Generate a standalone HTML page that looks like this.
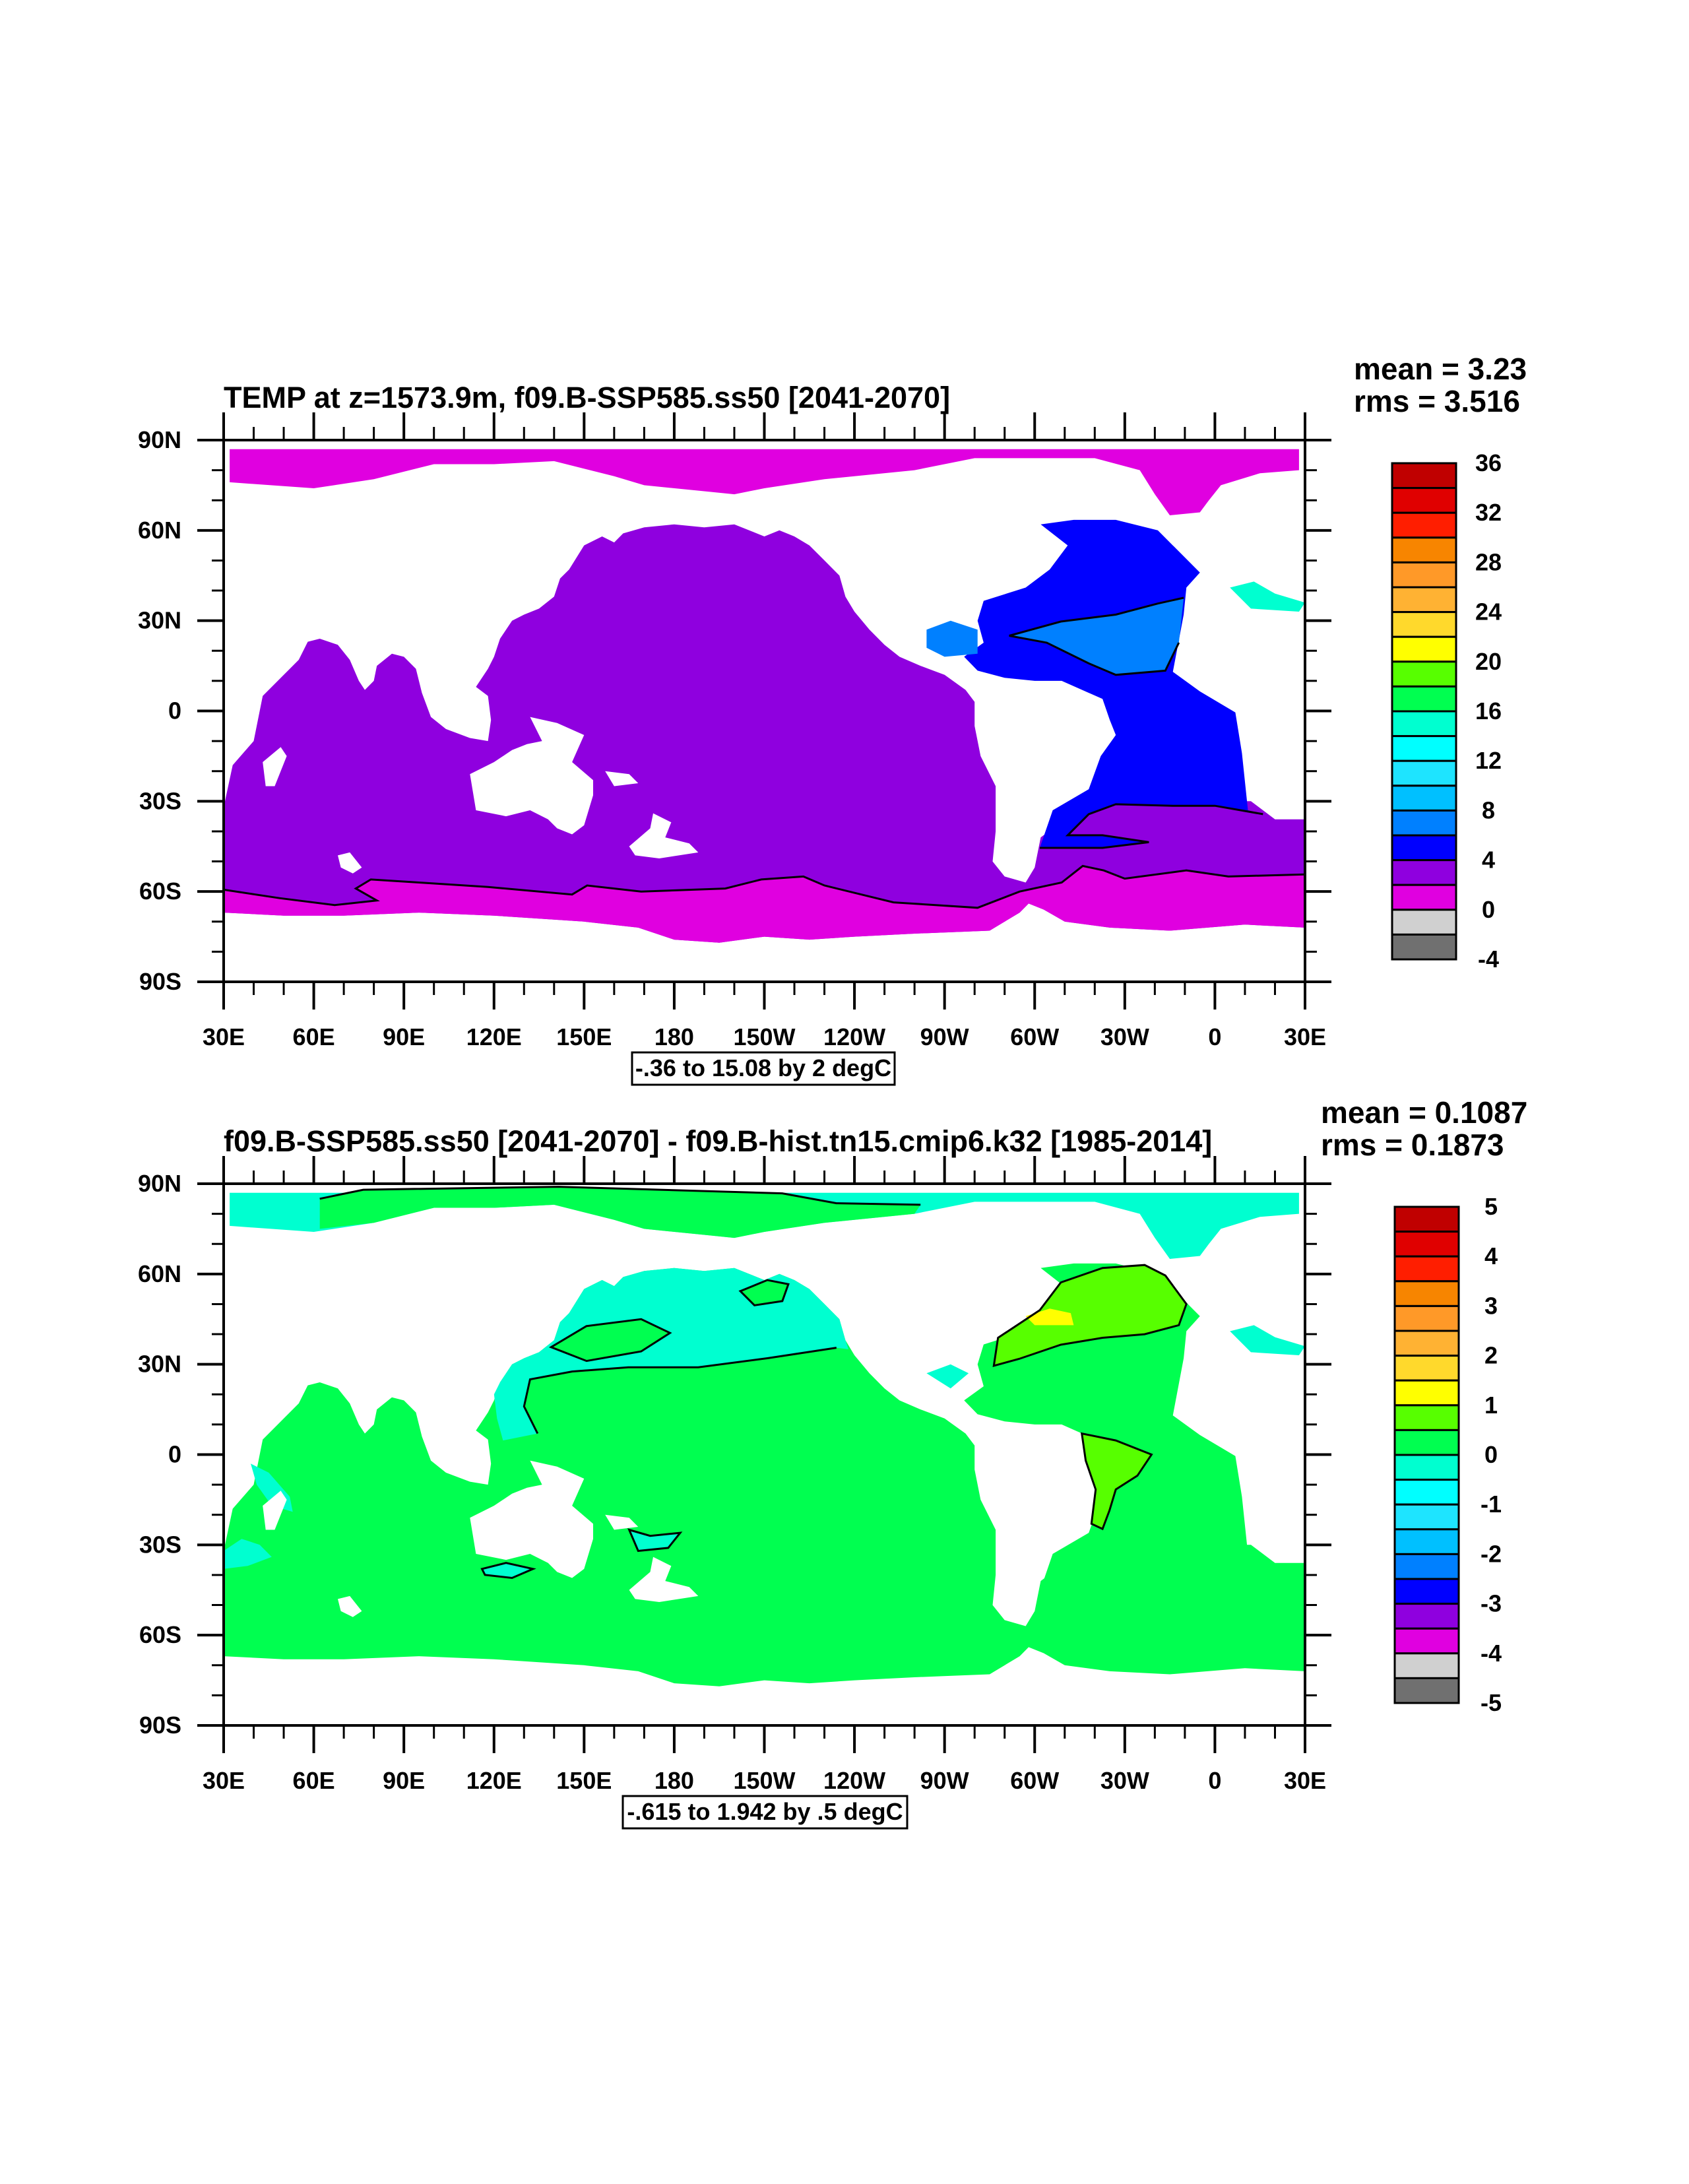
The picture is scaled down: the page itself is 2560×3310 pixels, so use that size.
<!DOCTYPE html>
<html><head><meta charset="utf-8">
<style>
html,body{margin:0;padding:0;background:#fff;}
svg{display:block;}
text{font-family:"Liberation Sans",Arial,sans-serif;font-weight:bold;fill:#000;}
</style></head>
<body>
<svg id="fig" xmlns="http://www.w3.org/2000/svg" width="2560" height="3310" viewBox="0 0 2560 3310">
<defs>
<clipPath id="clipTop"><rect x="339" y="667" width="1639" height="821"/></clipPath>
<clipPath id="clipBot"><rect x="339" y="1794" width="1639" height="821"/></clipPath>
</defs>
<g id="top-panel"></g>
<g id="bottom-panel"></g>
</svg>
<script>
// ---- geographic data (lon 30..390, lat -90..90) ----
const oceanMain = [[30,-32],[33,-18],[40,-10],[43,5],[50,12],[55,17],[58,23],[62,24],[68,22],[72,17],[75,10],[77,7],[80,10],[81,15],[86,19],[90,18],[94,14],[96,6],[99,-2],[104,-6],[112,-9],[118,-10],[119,-3],[118,5],[114,8],[118,14],[120,18],[122,24],[126,30],[130,32],[135,34],[140,38],[142,44],[145,47],[150,55],[156,58],[160,56],[163,59],[170,61],[180,62],[190,61],[200,62],[210,58],[215,60],[220,58],[225,55],[230,50],[235,45],[237,38],[240,33],[245,27],[250,22],[255,18],[262,15],[270,12],[277,7],[280,3],[280,-5],[282,-15],[287,-25],[287,-40],[286,-50],[290,-55],[297,-57],[300,-52],[302,-42],[310,-36],[320,-30],[345,-30],[372,-30],[380,-36],[390,-36],[390,-72],[370,-71],[345,-73],[325,-72],[310,-70],[303,-66],[298,-64],[295,-67],[285,-73],[260,-74],[240,-75],[225,-76],[210,-75],[195,-77],[180,-76],[168,-72],[150,-70],[120,-68],[95,-67],[70,-68],[50,-68],[30,-67]];
const oceanAtl = [[283,36.6],[297,41],[305,47],[311,55],[302,62],[313,63.5],[327,63.5],[341,60],[355,46],[350.5,41],[349.6,32],[346,13],[355,6.5],[366.8,-0.5],[369,-14],[371,-33],[376,-34.3],[360,-31.5],[346,-31.5],[327,-31],[318,-34.3],[311,-41.3],[322.6,-41.3],[338,-43.6],[322.6,-45.5],[301.7,-45.5],[306,-33],[318,-26],[322,-15],[327,-8],[325,-3],[322.6,4],[309,10],[300,10],[290,11],[281,13.4],[276.5,18],[283,22.7],[281,30]];
const oceanGulf = [[264,27],[272,30],[281,27],[281,19],[270,18],[264,21]];
const oceanArctic = [[32,87],[388,87],[388,80],[375,79],[362,75],[358,70],[355,66],[345,65],[340,72],[335,80],[320,84],[280,84],[260,80],[230,77],[210,74],[200,72],[190,73],[170,75],[160,78],[140,83],[120,82],[100,82],[80,77],[60,74],[32,76]];
const oceanMed = [[365,41],[373,43],[380,39],[390,36],[388,33],[372,34]];
const landIslands = [
 [[112,-21],[114,-33],[124,-35],[132,-33],[138,-36],[141,-39],[146,-41],[150,-38],[153,-28],[153,-23],[146,-17],[150,-8],[141,-4],[132,-2],[136,-10],[131,-11],[126,-13],[120,-17]],
 [[165,-45],[172,-39],[173,-34],[179,-37],[177,-42],[185,-44],[188,-47],[175,-49],[167,-48]],
 [[44,-25],[43,-17],[49,-12],[51,-15],[47,-25]],
 [[68,-48],[72,-47],[76,-52],[73,-54],[69,-52]],
 [[157,-20],[165,-21],[168,-24],[160,-25]]
];
const contourSouth = [[30,-59.4],[48.6,-62.2],[67,-64.5],[81,-63],[74,-59],[79,-56],[95,-57],[118,-58.5],[146,-61],[151,-58],[169,-60],[197,-59],[209,-56],[223,-55],[230,-58],[253,-63.6],[281,-65.4],[295,-60],[309,-57],[316,-51.5],[323,-53],[330,-55.7],[350.5,-53],[364.5,-55],[390,-54.3]];
const antarcticCoastRev = [[390,-72],[370,-71],[345,-73],[325,-72],[310,-70],[303,-66],[298,-64],[295,-67],[285,-73],[260,-74],[240,-75],[225,-76],[210,-75],[195,-77],[180,-76],[168,-72],[150,-70],[120,-68],[95,-67],[70,-68],[50,-68],[30,-67]];
const contourAtlSouth = [[301.7,-45.5],[322.6,-45.5],[338,-43.6],[322.6,-41.3],[311,-41.3],[318,-34.3],[327,-31],[346,-31.5],[360,-31.5],[376,-34.3]];
const patchSubtrop = [[291.5,25],[308.7,29.7],[327,32],[341,35.7],[349.6,37.6],[348,22.7],[343.5,13.4],[327,12],[318,15.8],[304,22.7]];
// difference panel features
const aquaPacific = [[120,20],[122,24],[126,30],[130,32],[135,34],[140,38],[142,44],[145,47],[150,55],[156,58],[160,56],[163,59],[170,61],[180,62],[190,61],[200,62],[210,58],[215,60],[220,58],[225,55],[230,50],[235,45],[237,38],[238,35],[234,35.5],[211,32],[188,29],[164.7,29],[146,27.6],[132,25],[130,16],[134.5,7],[123,4.7],[121,12]];
const greenBlobA = [[139,35.7],[150.8,42.7],[169,45],[178.6,40.4],[169,34.3],[150.8,31.1]];
const greenBlobB = [[202,54.3],[211,58],[218,56.6],[216,51],[206.7,49.6]];
const greenArctic = [[62,85],[76.5,88],[141.5,89],[216,86.8],[234,83.5],[262,83],[260,80],[230,77],[210,74],[200,72],[190,73],[170,75],[160,78],[140,83],[120,82],[100,82],[80,77],[62,75]];
const contourArctic = [[62,85],[76.5,88],[141.5,89],[216,86.8],[234,83.5],[262,83]];
const limeNAtl = [[287.8,38.8],[301.7,48],[308.7,57.2],[322.6,62],[336.6,63],[343.5,59.5],[350.5,50],[348,43],[336.6,40],[322.6,38.8],[308.7,36.5],[294.8,31.8],[286.4,29.5]];
const yellowNAtl = [[297,46],[305,48.5],[312,47],[313,43],[300,43]];
const limeBrazil = [[315.7,7],[327,4.7],[338.9,0],[334.2,-7],[327,-11.6],[324.9,-18.6],[322.6,-24.7],[318.9,-23],[320.3,-11.6],[317,-2]];
const aquaSmall = [
 [[39,-3],[45,-6],[52,-14],[53,-19],[46,-17],[41,-10]],
 [[30,-32],[36,-28],[42,-30],[46,-34],[38,-37],[30,-38]],
 [[116,-38],[124,-36],[133,-38],[126,-41],[117,-40]],
 [[165,-25],[172,-27],[182,-26],[178,-31],[168,-32]],
 [[365,41],[373,43],[380,39],[390,36],[388,33],[372,34]],
 [[264,27],[272,30],[278,27],[272,22]]
];
// axis ticks / labels
const latTicks = [90,60,30,0,-30,-60,-90];
const latLabels = ["90N","60N","30N","0","30S","60S","90S"];
const lonTicks = [30,60,90,120,150,180,210,240,270,300,330,360,390];
const lonLabels = ["30E","60E","90E","120E","150E","180","150W","120W","90W","60W","30W","0","30E"];
const barColors = ["#c00000","#e00000","#ff1e00","#f78500","#ff9928","#ffb233","#ffd92c","#ffff00","#57ff00","#00ff50","#00ffd0","#00ffff","#1ee4ff","#00c0ff","#0080ff","#0000ff","#8f00df","#e000e0","#d0d0d0","#707070"];
const barLabelsTop = ["36","32","28","24","20","16","12","8","4","0","-4"];
const barLabelsBot = ["5","4","3","2","1","0","-1","-2","-3","-4","-5"];

const NS="http://www.w3.org/2000/svg";
const L=339, W=1639, H=821;
function mk(tag, attrs, parent){const e=document.createElementNS(NS,tag);for(const k in attrs)e.setAttribute(k,attrs[k]);parent.appendChild(e);return e;}
function build(g, T, clipId, opts){
  const x = lon => L + (lon-30)/360*W;
  const y = lat => T + (90-lat)/180*H;
  const pts = arr => arr.map(p => x(p[0]).toFixed(1)+","+y(p[1]).toFixed(1)).join(" ");
  const mg = mk("g",{"clip-path":"url(#"+clipId+")"},g);
  
  
  function poly(arr, fill, name){const p=mk("polygon",{points:pts(arr),fill:fill},mg);return p;}
  function line(arr, name){const p=mk("polyline",{points:pts(arr),fill:"none",stroke:"#000","stroke-width":3},mg);return p;}
  const southMag = contourSouth.concat(antarcticCoastRev);
  if(opts.top){
    poly(oceanMain,"#8f00df","indo-pacific-field");
    poly(oceanAtl,"#0000ff","atlantic-field");
    poly(oceanGulf,"#0080ff","gulf-field");
    poly(patchSubtrop,"#0080ff","subtropical-atlantic-field");
    poly(southMag,"#e000e0","southern-ocean-field");
    poly(oceanArctic,"#e000e0","arctic-field");
    poly(oceanMed,"#00ffd0","mediterranean-field");
    landIslands.forEach(a=>poly(a,"#fff","land-mask"));
    line(contourSouth,"contour-line");
    line(contourAtlSouth,"contour-line");
    line(patchSubtrop.slice(0,5),"contour-line");
    line(patchSubtrop.slice(5).concat([patchSubtrop[0]]),"contour-line");
  } else {
    poly(oceanMain,"#00ff50","ocean-field");
    poly(oceanAtl,"#00ff50","atlantic-field");
    poly(oceanArctic,"#00ffd0","arctic-field");
    poly(greenArctic,"#00ff50","arctic-green-field");
    poly(aquaPacific,"#00ffd0","north-pacific-field");
    poly(greenBlobA,"#00ff50","pacific-green-blob");
    poly(greenBlobB,"#00ff50","pacific-green-blob");
    aquaSmall.forEach(a=>poly(a,"#00ffd0","aqua-patch"));
    poly(limeNAtl,"#57ff00","north-atlantic-field");
    poly(yellowNAtl,"#ffff00","north-atlantic-max");
    poly(limeBrazil,"#57ff00","brazil-field");
    landIslands.forEach(a=>poly(a,"#fff","land-mask"));
    line(contourArctic,"contour-line");
    line(aquaPacific.slice(24,32),"contour-line");
    [greenBlobA,greenBlobB,limeNAtl,limeBrazil,aquaSmall[2],aquaSmall[3]].forEach(a=>{
      const p=mk("polygon",{points:pts(a),fill:"none",stroke:"#000","stroke-width":3},mg);
      
      
    });
  }
  const fr = mk("rect",{x:L,y:T,width:W,height:H,fill:"none",stroke:"#000","stroke-width":4},g);
  
  
  for(let lon=30; lon<=390; lon+=10){
    const major = (lon-30)%30===0;
    const len = major?42:20;
    mk("line",{x1:x(lon),x2:x(lon),y1:T,y2:T-len,stroke:"#000","stroke-width":major?4:3},g);
    mk("line",{x1:x(lon),x2:x(lon),y1:T+H,y2:T+H+len,stroke:"#000","stroke-width":major?4:3},g);
  }
  for(let lat=-90; lat<=90; lat+=10){
    const major = lat%30===0;
    const len = major?40:18;
    mk("line",{x1:L,x2:L-len,y1:y(lat),y2:y(lat),stroke:"#000","stroke-width":major?4:3},g);
    mk("line",{x1:L+W,x2:L+W+len,y1:y(lat),y2:y(lat),stroke:"#000","stroke-width":major?4:3},g);
  }
  latTicks.forEach((lat,i)=>{
    const t=mk("text",{x:275,y:y(lat)+12,"text-anchor":"end","font-size":36},g);
    t.textContent=latLabels[i];
    
    
  });
  lonTicks.forEach((lon,i)=>{
    const t=mk("text",{x:x(lon),y:T+H+96,"text-anchor":"middle","font-size":36},g);
    t.textContent=lonLabels[i];
    
    
  });
  const ti=mk("text",{x:339,y:T-49,"font-size":45},g);
  ti.textContent=opts.title;
  
  
  const m1=mk("text",{x:opts.statX,y:T-92,"font-size":46},g);
  m1.textContent=opts.mean;
  
  
  const m2=mk("text",{x:opts.statX,y:T-43,"font-size":46},g);
  m2.textContent=opts.rms;
  
  
  const bx=mk("rect",{x:opts.boxX,y:T+H+107,width:opts.boxW,height:49,fill:"#fff",stroke:"#000","stroke-width":3},g);
  
  
  const bt=mk("text",{x:opts.boxX+opts.boxW/2,y:T+H+143,"text-anchor":"middle","font-size":36},g);
  bt.textContent=opts.info;
  
  
  const cg=mk("g",{},g);
  
  
  const cx=opts.barX, cy=T+35, cw=97, ch=752, bh=ch/barColors.length;
  barColors.forEach((c,i)=>{
    const r=mk("rect",{x:cx,y:cy+i*bh,width:cw,height:bh,fill:c,stroke:"#000","stroke-width":3},cg);
    
    
  });
  opts.barLabels.forEach((s,i)=>{
    const t=mk("text",{x:cx+146,y:cy+i*2*bh+12,"text-anchor":"middle","font-size":36},cg);
    t.textContent=s;
    
    
  });
}
build(document.getElementById("top-panel"),667,"clipTop",{top:true,
  title:"TEMP at z=1573.9m, f09.B-SSP585.ss50 [2041-2070]",
  mean:"mean = 3.23", rms:"rms = 3.516", statX:2052,
  info:"-.36 to 15.08 by 2 degC", boxX:958, boxW:398,
  barX:2110, barLabels:barLabelsTop});
build(document.getElementById("bottom-panel"),1794,"clipBot",{top:false,
  title:"f09.B-SSP585.ss50 [2041-2070] - f09.B-hist.tn15.cmip6.k32 [1985-2014]",
  mean:"mean = 0.1087", rms:"rms = 0.1873", statX:2002,
  info:"-.615 to 1.942 by .5 degC", boxX:944, boxW:431,
  barX:2114, barLabels:barLabelsBot});
</script>
</body></html>
